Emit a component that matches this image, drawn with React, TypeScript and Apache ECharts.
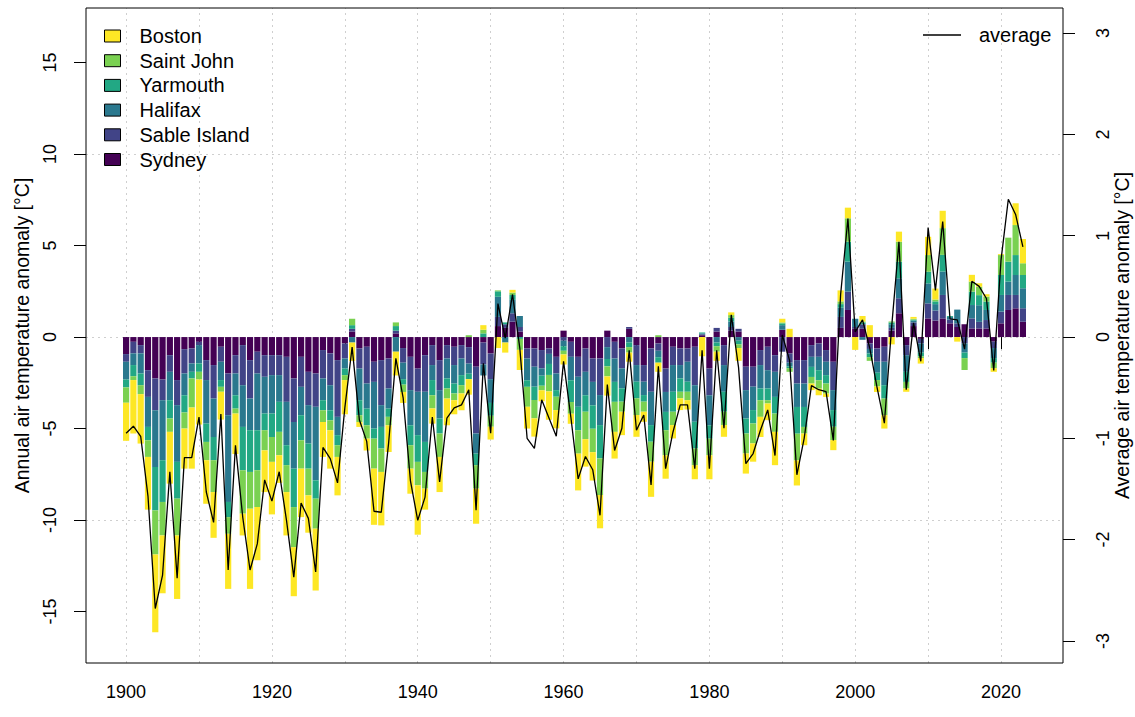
import React, { useEffect, useRef } from "react";
import * as echarts from "echarts";

// Category years shown on the axis (data exist for 1900..2023)
const axisYears: string[] = Array.from({ length: 134 }, (_, i) => String(1895 + i));
const firstDataYear = 1900;

// Station annual anomalies (°C), stacked in this order from the zero line outward
const sydney = [
  -0.93, -0.26, -0.44, -1.81, -2.26, -2.32, -0.99, -2.35, -0.66, -0.62,
  -0.26, -1.26, -1.53, -0.53, -1.99, -0.99, -0.44, -1.26, -0.80, -0.99,
  -0.99, -0.99, -1.08, -2.26, -1.08, -1.90, -1.99, -0.71, -0.89, -1.26,
  -0.35, 0.30, -0.62, -0.53, -1.35, -1.26, -1.17, 0.20, -0.60, -1.08,
  -1.72, -0.99, -0.44, -1.26, -0.44, -0.53, -0.44, -0.55, -1.62, -0.30,
  -0.90, 0.60, 0.50, 0.84, 0.30, -0.62, -0.62, -0.71, -0.62, -1.08,
  0.35, -0.26, -1.08, -0.62, -1.17, -1.17, 0.35, -0.26, -0.62, 0.45,
  -0.44, -1.53, -0.62, -0.35, -1.72, -0.53, -0.62, -0.62, -0.53, 0.10,
  -1.72, 0.30, -0.44, 0.35, 0.30, -1.62, -1.62, -0.71, -0.53, -0.99,
  0.40, -0.90, -1.26, -1.26, -0.44, -0.35, -0.71, -1.35, 0.50, 1.48,
  0.45, 0.45, -0.35, -0.62, -0.53, 0.35, 1.30, -0.44, 0.60, -0.10,
  1.02, 0.90, 1.02, 0.75, 0.55, 0.70, 0.47, 0.47, 0.47, -0.25,
  0.75, 1.48, 1.57, 0.84,
];
const sableIsland = [
  -0.42, -0.63, -0.45, -1.46, -1.74, -1.13, -0.91, -1.37, -1.33, -0.82,
  -0.18, -1.09, -1.83, -0.82, -2.28, -1.00, -2.19, -2.10, -1.19, -1.18,
  -1.09, -1.09, -2.46, -2.38, -1.64, -1.82, -1.82, -1.55, -1.74, -3.10,
  -0.82, 0.15, -1.10, -2.01, -1.10, -2.46, -1.64, 0.15, -0.80, -1.82,
  -1.27, -2.00, -1.09, -1.64, -0.73, -1.00, -0.73, -0.90, -3.65, -1.20,
  -1.40, 0.50, 0.20, 0.46, 0.25, -0.55, -1.00, -1.00, -0.30, -0.91,
  -0.20, -0.82, -1.09, -1.28, -1.28, -2.00, -0.55, -0.91, -1.09, 0.10,
  -1.09, -0.91, -2.37, -0.40, -1.28, -1.00, -0.91, -0.73, -2.10, 0.05,
  -1.46, 0.20, -1.09, 0.20, 0.15, -1.28, -1.09, -0.82, -1.28, -0.91,
  -0.80, -0.50, -1.28, -1.28, -0.64, -0.73, -0.64, -1.55, 0.60, 1.00,
  0.10, 0.25, -0.30, -0.73, -0.82, 0.15, 0.82, -0.55, 0.20, -0.25,
  0.82, 0.55, 1.28, 0.20, 0.20, -0.35, 0.55, 0.36, 0.46, -0.35,
  0.64, 0.82, 0.73, 0.73,
];
const halifax = [
  -0.97, -0.64, -1.10, -1.64, -3.10, -3.28, -1.55, -3.10, -1.19, -0.46,
  -1.00, -2.38, -2.10, -1.00, -4.74, -1.19, -2.28, -1.73, -3.10, -2.01,
  -2.10, -1.46, -2.37, -2.55, -1.55, -2.10, -4.02, -1.19, -1.37, -1.00,
  -0.55, -0.30, -1.73, -1.37, -2.55, -1.19, -1.10, -0.80, -0.90, -1.92,
  -2.37, -2.74, -0.82, -1.55, -1.09, -1.01, -0.91, -0.55, -1.10, -0.60,
  -1.30, 1.10, -0.30, 0.73, 0.60, -1.19, -1.09, -0.40, -0.55, -0.91,
  -0.30, -1.28, -1.64, -1.28, -1.28, -1.64, -0.65, -1.28, -1.09, -0.30,
  -0.91, -0.73, -1.82, -0.35, -1.09, -1.46, -0.73, -1.09, -2.00, 0.05,
  -1.64, -0.30, -1.46, 0.30, -0.20, -1.55, -1.28, -1.28, -1.00, -1.37,
  0.25, -0.20, -1.28, -1.28, -0.55, -0.73, -0.73, -1.09, 0.50, 1.64,
  0.45, -0.15, -0.25, -0.60, -1.28, 0.20, 1.09, -0.91, 0.10, -0.50,
  1.09, 0.35, 1.28, 0.15, 0.75, -0.50, 0.73, 0.91, 0.55, -0.55,
  0.91, 0.73, 1.09, 1.09,
];
const yarmouth = [
  -0.43, -0.61, -0.64, -0.73, -2.37, -2.28, -1.00, -2.01, -0.94, -0.36,
  -0.46, -1.00, -1.27, -0.37, -0.83, -0.73, -2.37, -2.28, -2.19, -0.91,
  -1.28, -1.64, -1.09, -2.10, -1.37, -1.37, -1.00, -0.55, -0.55, -0.55,
  -0.36, 0.20, -0.82, -0.91, -0.55, -1.18, -0.45, 0.25, -0.30, -1.09,
  -1.46, -1.64, -0.83, -0.82, -0.55, -0.54, -0.55, -0.30, -0.63, 0.20,
  -0.70, 0.30, 0.10, 0.27, -0.10, -0.36, -0.73, -0.55, -0.60, -0.36,
  -0.25, -1.19, -1.28, -0.90, -1.28, -1.82, -0.40, -1.09, -0.73, -0.25,
  -0.91, -0.36, -0.91, -0.30, -1.00, -1.09, -0.73, -0.55, -1.46, 0.05,
  -0.73, -0.20, -1.09, 0.20, -0.20, -0.82, -0.73, -0.64, -0.64, -0.91,
  0.10, -0.10, -1.46, -1.09, -0.55, -0.55, -0.46, -0.91, 0.20, 1.09,
  0.00, 0.10, -0.20, -0.40, -0.73, 0.10, 0.91, -0.55, 0.05, -0.20,
  0.64, 0.15, 0.91, 0.05, 0.00, -0.30, 0.73, 0.55, 0.46, -0.25,
  1.09, 1.09, 1.09, 0.73,
];
const saintJohn = [
  -0.84, -0.21, -0.49, -0.91, -2.41, -1.83, -0.73, -2.01, -0.88, -1.59,
  -0.42, -1.00, -1.74, -0.27, -0.91, -0.27, -2.37, -2.01, -2.01, -1.10,
  -1.36, -1.28, -1.47, -2.19, -1.55, -1.46, -1.64, -0.64, -0.54, -0.64,
  -0.27, 0.35, -0.37, -0.73, -1.64, -1.28, -0.46, 0.20, -0.40, -1.28,
  -1.28, -0.91, -0.72, -1.28, -0.55, -0.37, -0.45, 0.10, -1.28, 0.20,
  -0.60, 0.05, 0.00, 0.13, -0.60, -1.09, -1.00, -0.25, -0.90, -0.73,
  -0.20, -0.64, -1.28, -1.50, -1.28, -2.00, -0.55, -1.64, -0.55, -0.30,
  -0.91, -0.55, -1.09, 0.10, -1.37, -0.73, -0.36, -0.46, -0.91, 0.00,
  -0.91, -0.30, -0.73, 0.15, -0.20, -1.09, -1.09, -0.91, -0.18, -1.00,
  0.05, -0.20, -1.46, -0.36, -0.36, -0.46, -0.55, -0.73, 0.15, 1.28,
  0.00, 0.05, -0.20, -0.35, -0.91, 0.05, 1.09, -0.36, 0.05, -0.10,
  0.91, 0.10, 1.46, 0.00, 0.00, -0.65, 0.55, 0.46, 0.27, -0.30,
  1.09, 1.31, 1.64, 0.64,
];
const boston = [
  -2.08, -2.92, -2.70, -2.88, -4.25, -3.16, -2.83, -3.47, -2.19, -3.34,
  -2.46, -2.38, -2.50, -1.52, -3.01, -2.21, -1.19, -4.38, -2.91, -2.28,
  -2.87, -1.51, -2.37, -2.68, -2.65, -2.04, -3.38, -1.91, -2.10, -2.10,
  -1.87, -1.00, -0.27, -0.65, -3.07, -2.92, -1.46, -1.30, -0.60, -1.37,
  -2.70, -1.15, -0.83, -1.92, -1.46, -0.77, -0.92, -0.85, -1.92, 0.25,
  -0.70, -0.60, -0.55, 0.15, -1.10, -1.19, -1.00, -0.60, -1.55, -1.00,
  -0.55, -0.55, -2.01, -1.50, -1.55, -1.82, -1.05, -1.46, -1.28, -0.50,
  -1.19, -0.55, -1.92, -0.50, -1.28, -0.73, -0.64, -0.51, -0.77, -1.05,
  -1.31, -0.50, -0.64, 0.15, -0.70, -1.10, -1.00, -1.10, -0.91, -1.82,
  0.20, 0.45, -1.37, -0.64, -0.36, -0.36, -0.18, -0.55, 0.60, 0.58,
  -0.70, 0.30, 0.65, -0.30, -0.73, -0.40, 0.55, -0.18, 0.10, -0.30,
  1.00, 0.60, 0.95, 0.00, -0.25, 0.00, 0.37, 0.19, 0.13, -0.20,
  0.05, 0.00, 1.19, 1.33,
];

// Average anomaly (right axis)
const average = [
  -0.95, -0.88, -0.98, -1.57, -2.68, -2.35, -1.33, -2.38, -1.19, -1.19,
  -0.79, -1.53, -1.83, -0.76, -2.30, -1.07, -1.78, -2.30, -2.04, -1.41,
  -1.62, -1.33, -1.81, -2.37, -1.64, -1.79, -2.32, -1.09, -1.20, -1.44,
  -0.70, -0.10, -0.82, -1.03, -1.72, -1.73, -1.05, -0.21, -0.60, -1.42,
  -1.81, -1.58, -0.79, -1.43, -0.80, -0.70, -0.67, -0.52, -1.71, -0.26,
  -0.95, 0.33, -0.01, 0.42, -0.11, -1.00, -1.10, -0.62, -0.80, -0.98,
  -0.24, -0.79, -1.40, -1.18, -1.31, -1.76, -0.47, -1.12, -0.90, -0.13,
  -0.92, -0.77, -1.46, -0.29, -1.30, -0.94, -0.67, -0.67, -1.30, -0.13,
  -1.30, -0.13, -0.90, 0.22, -0.30, -1.25, -1.15, -0.92, -0.72, -1.17,
  0.02, -0.23, -1.36, -1.00, -0.48, -0.52, -0.54, -1.02, 0.42, 1.17,
  0.05, 0.17, -0.11, -0.50, -0.85, 0.10, 0.94, -0.52, 0.14, -0.24,
  1.08, 0.46, 1.14, 0.18, 0.17, -0.12, 0.55, 0.50, 0.38, -0.33,
  0.76, 1.36, 1.21, 0.89,
];

const stationNames = ["Sydney", "Sable Island", "Halifax", "Yarmouth", "Saint John", "Boston"];
const stationValues = [sydney, sableIsland, halifax, yarmouth, saintJohn, boston];
const stationColors = ["#440154", "#414487", "#2A788E", "#22A884", "#7AD151", "#FDE725"];
const legendOrder = ["Boston", "Saint John", "Yarmouth", "Halifax", "Sable Island", "Sydney"];

const gridYears = ["1900", "1910", "1920", "1930", "1940", "1950", "1960", "1970", "1980", "1990", "2000", "2010", "2020"];
const leftTickValues = [-15, -10, -5, 0, 5, 10, 15];
const rightTickValues = [-3, -2, -1, 0, 1, 2, 3];
const hGridValues = [-10, 0, 10];

const FONT = "'Liberation Sans', Arial, Helvetica, sans-serif";

function onAxis(values: number[]) {
  return axisYears.map((y) => {
    const idx = Number(y) - firstDataYear;
    return idx >= 0 && idx < values.length ? values[idx] : null;
  });
}

export default function App() {
  const ref = useRef<HTMLDivElement>(null);
  useEffect(() => {
    if (!ref.current) return;
    const chart = echarts.init(ref.current, undefined, { renderer: "svg" });

    const barSeries = stationNames.map((name, i) => ({
      name,
      type: "bar",
      stack: "stations",
      stackStrategy: "samesign",
      barWidth: 6.2,
      data: onAxis(stationValues[i]),
      itemStyle: { color: stationColors[i] },
      emphasis: { disabled: true },
      z: 3,
    }));

    const option: any = {
      animation: false,
      backgroundColor: "#ffffff",
      textStyle: { fontFamily: FONT, color: "#000" },
      grid: {
        left: 86,
        right: 72,
        top: 8,
        bottom: 54,
        show: true,
        borderColor: "#000",
        borderWidth: 1,
        backgroundColor: "transparent",
        containLabel: false,
        outerBoundsMode: "none",
        z: 10,
      },
      legend: [
        {
          data: legendOrder,
          orient: "vertical",
          left: 104,
          top: 26,
          itemWidth: 16,
          itemHeight: 12,
          itemGap: 4.7,
          padding: 0,
          icon: "rect",
          selectedMode: false,
          itemStyle: { borderColor: "#000", borderWidth: 1 },
          textStyle: { fontSize: 20, color: "#000", fontFamily: FONT, padding: [0, 0, 0, 14] },
        },
        {
          data: ["average"],
          left: 923,
          top: 25,
          icon: "rect",
          itemWidth: 38,
          itemHeight: 1.5,
          padding: 0,
          selectedMode: false,
          textStyle: { fontSize: 20, color: "#000", fontFamily: FONT, padding: [0, 0, 0, 13] },
        },
      ],
      xAxis: {
        type: "category",
        data: axisYears,
        boundaryGap: true,
        axisLine: { show: false },
        splitLine: { show: false },
        axisTick: {
          show: true,
          alignWithLabel: true,
          length: 12,
          lineStyle: { color: "#000", width: 1 },
          interval: (_i: number, v: string) => Number(v) % 10 === 0,
        },
        axisLabel: {
          fontSize: 18,
          color: "#000",
          margin: 20,
          fontFamily: FONT,
          interval: (_i: number, v: string) => Number(v) % 20 === 0,
        },
      },
      yAxis: [
        {
          type: "value",
          position: "left",
          min: -17.81,
          max: 17.98,
          axisLine: { show: false },
          splitLine: { show: false },
          axisTick: {
            show: true,
            length: 12,
            lineStyle: { color: "#000", width: 1 },
            customValues: leftTickValues,
          },
          axisLabel: {
            customValues: leftTickValues,
            rotate: 90,
            fontSize: 18,
            color: "#000",
            margin: 27,
            fontFamily: FONT,
            formatter: (v: number) => String(v),
          },
          name: "Annual air temperature anomaly [°C]",
          nameLocation: "middle",
          nameRotate: 90,
          nameGap: 54,
          nameMoveOverlap: false,
          nameTextStyle: { fontSize: 19.5, color: "#000", fontFamily: FONT },
        },
        {
          type: "value",
          position: "right",
          min: -3.218,
          max: 3.248,
          axisLine: { show: false },
          splitLine: { show: false },
          axisTick: {
            show: true,
            length: 12,
            lineStyle: { color: "#000", width: 1 },
            customValues: rightTickValues,
          },
          axisLabel: {
            customValues: rightTickValues,
            rotate: 90,
            fontSize: 18,
            color: "#000",
            margin: 31,
            fontFamily: FONT,
            formatter: (v: number) => String(v),
          },
          name: "Average air temperature anomaly [°C]",
          nameLocation: "middle",
          nameRotate: 90,
          nameGap: 49,
          nameMoveOverlap: false,
          nameTextStyle: { fontSize: 19.5, color: "#000", fontFamily: FONT },
        },
      ],
      series: [
        {
          name: "grid",
          type: "line",
          data: [],
          symbol: "none",
          lineStyle: { opacity: 0 },
          silent: true,
          z: 0,
          zlevel: 0,
          markLine: {
            silent: true,
            z: 0,
            zlevel: 0,
            symbol: "none",
            label: { show: false },
            lineStyle: { color: "#cfcfcf", type: [2, 4], width: 1 },
            data: [
              ...gridYears.map((v) => ({ xAxis: v })),
              ...hGridValues.map((v) => ({ yAxis: v })),
            ],
          },
        },
        ...barSeries,
        {
          name: "average",
          type: "line",
          yAxisIndex: 1,
          data: onAxis(average),
          symbol: "none",
          showSymbol: false,
          lineStyle: { color: "#000", width: 1.3 },
          itemStyle: { color: "#000" },
          emphasis: { disabled: true },
          z: 5,
        },
      ],
    };
    chart.setOption(option);
    return () => chart.dispose();
  }, []);

  return (
    <div
      ref={ref}
      style={{ position: "absolute", left: 0, top: 0, width: 1135, height: 717, background: "#fff" }}
    />
  );
}
